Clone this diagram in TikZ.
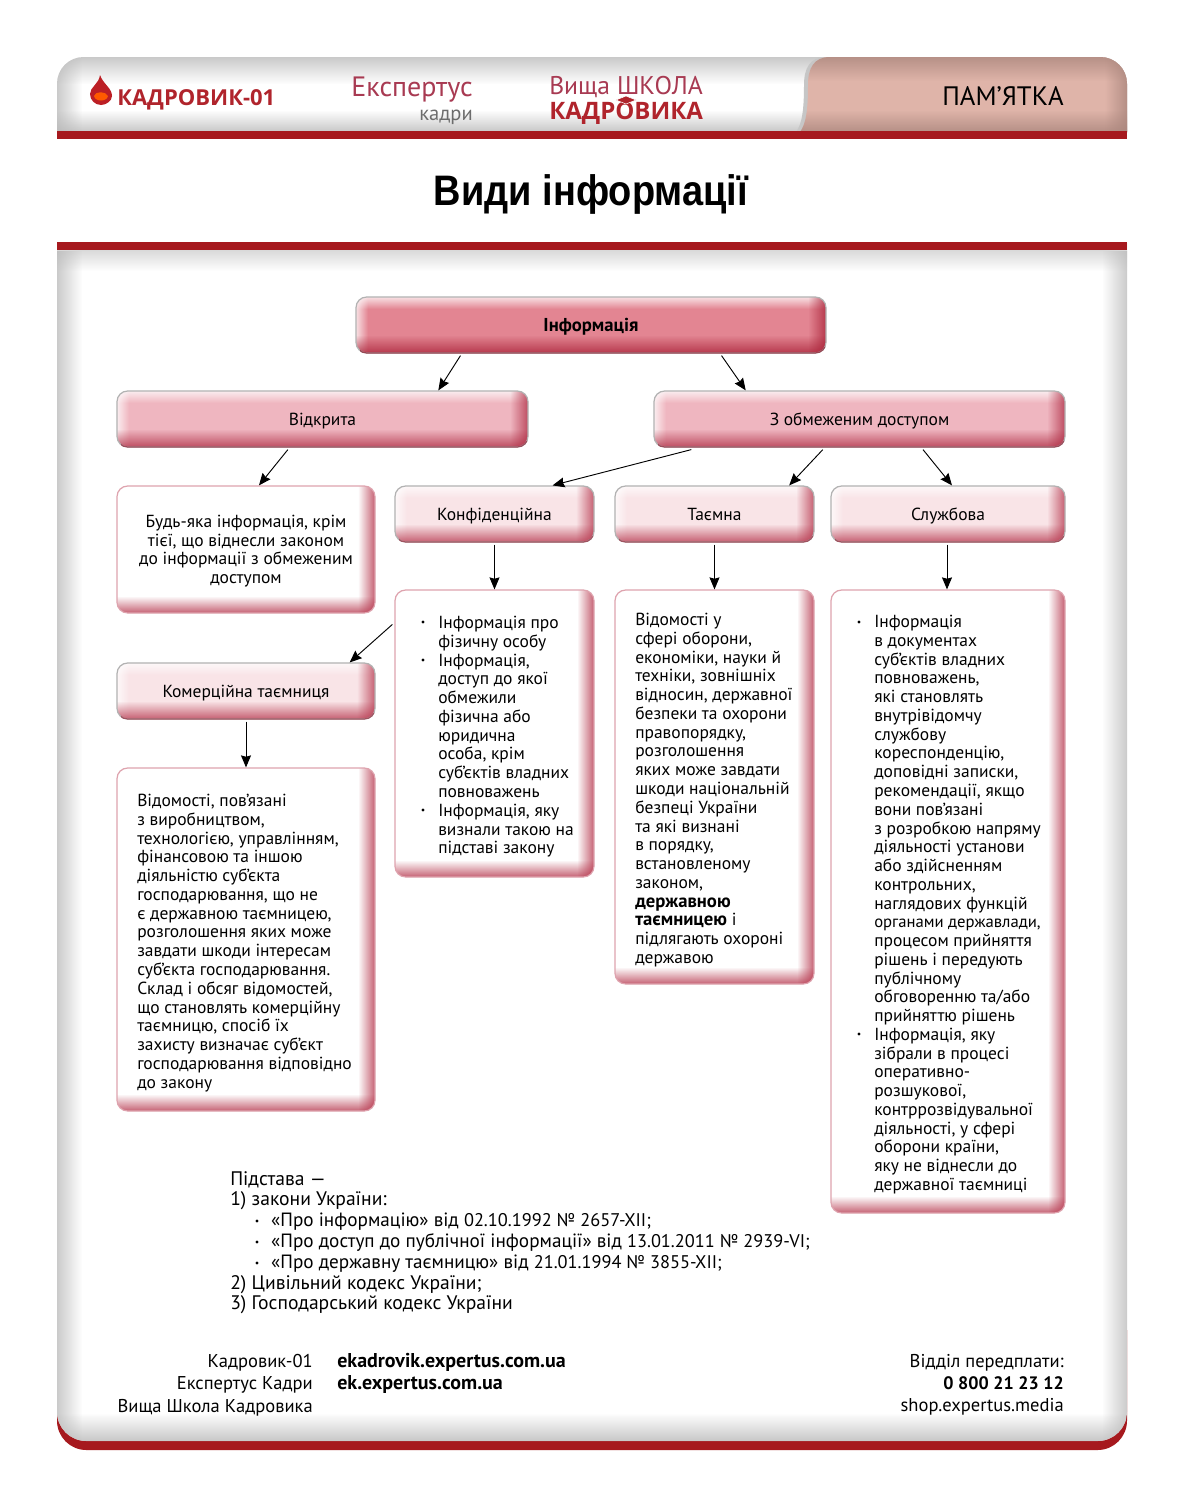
\documentclass[tikz,border=0pt]{standalone}
\usepackage{fontspec}
\setmainfont{PT Sans}
\newfontfamily\titlefont{Liberation Sans}
\newfontfamily\logofont{Open Sans}
\usetikzlibrary{calc,arrows.meta,fadings}
\definecolor{brickred}{HTML}{A6191E}
\definecolor{infofill}{HTML}{E38592}
\definecolor{infodark}{HTML}{A82036}
\definecolor{midfill}{HTML}{EFB6C0}
\definecolor{middark}{HTML}{AE2A42}
\definecolor{lightfill}{HTML}{F9E4E7}
\definecolor{lightdark}{HTML}{B5334A}
\definecolor{logored}{HTML}{B0242C}
\definecolor{logosoft}{HTML}{A83A52}
\definecolor{tabfill}{HTML}{DFB4A9}
\definecolor{tabdark}{HTML}{A9857C}
\definecolor{edgegray}{HTML}{B8B8B8}
\newcommand{\bigb}[1]{\textbf{\fontsize{14}{14}\selectfont #1}}
\newcommand{\numf}[1]{{\fontsize{13.75}{15.6}\selectfont #1}}
\tikzset{
  x=0.75pt,y=-0.75pt,
  conn/.style={-{Stealth[length=9pt,width=7.5pt,inset=1pt]},line width=0.7pt,black},
  boxtext/.style={font=\fontsize{13.1}{14.07}\selectfont,align=center,inner sep=0pt},
  labeltext/.style={font=\fontsize{13.1}{14}\selectfont,inner sep=0pt,text height=12pt,text depth=3pt},
  bodytext/.style={font=\fontsize{13.1}{14.07}\selectfont,align=left,inner sep=0pt,anchor=north west},
  foot/.style={font=\fontsize{13.9}{16.7}\selectfont,inner sep=0pt},
}
% name, x1,y1,x2,y2, fill, dark, text
\newcommand{\glossbox}[8]{%
  \begin{scope}
    \clip[rounded corners=8pt] (#2,#3) rectangle (#4,#5);
    \fill[#6] (#2,#3) rectangle (#4,#5);
    \fill[white,path fading=south] (#2-2,#3-4) rectangle (#4+2,#3+12);
    \fill[white,path fading=east] (#2-4,#3-2) rectangle (#2+12,#5+2);
    \fill[#7,path fading=north] (#2-2,#5-18) rectangle (#4+2,#5+6);
    \fill[#7,path fading=west] (#4-18,#3-2) rectangle (#4+6,#5+2);
  \end{scope}
  \node[draw=gray!60,line width=0.9pt,rounded corners=8pt,
        minimum width={(#4-#2)*0.75pt},minimum height={(#5-#3)*0.75pt},
        inner sep=0pt] (#1) at ({(#2+#4)/2},{(#3+#5)/2}) {};
  \begin{scope}
    \clip (#2+4,#5-6) rectangle (#4-1,#5+3);
    \draw[#7!60!gray,line width=0.9pt,rounded corners=8pt] (#2,#3) rectangle (#4,#5);
  \end{scope}
  \node[labeltext] at (#1) {#8};
}
% name, x1,y1,x2,y2
\newcommand{\whitebox}[5]{%
  \begin{scope}
    \clip[rounded corners=8pt] (#2,#3) rectangle (#4,#5);
    \fill[white] (#2,#3) rectangle (#4,#5);
    \fill[lightdark,path fading=north] (#2-2,#5-17) rectangle (#4+2,#5+5);
    \fill[lightdark,path fading=west] (#4-17,#3-2) rectangle (#4+5,#5+2);
  \end{scope}
  \node[draw=lightdark!45,line width=0.9pt,rounded corners=8pt,
        minimum width={(#4-#2)*0.75pt},minimum height={(#5-#3)*0.75pt},
        inner sep=0pt] (#1) at ({(#2+#4)/2},{(#3+#5)/2}) {};
}
\begin{document}
\begin{tikzpicture}
\useasboundingbox (0,0) rectangle (1182,1506);
\fill[white] (0,0) rectangle (1182,1506);
% header panel
\begin{scope}
  \clip[rounded corners=20pt] (57,57) rectangle (1127,190);
  \clip (50,50) rectangle (1134,132);
  \fill[white] (57,57) rectangle (1127,132);
  \fill[edgegray,path fading=south] (50,48) rectangle (1134,84);
  \fill[edgegray,path fading=north] (50,110) rectangle (1134,138);
  \fill[edgegray,path fading=east] (48,50) rectangle (82,140);
  % tab
  \fill[edgegray!80] (796,132) .. controls (802,124) and (804,110) .. (804,85)
     .. controls (804,68) and (810,57) .. (826,57) -- (1140,57) -- (1140,132) -- cycle;
  \fill[tabfill] (800,132) .. controls (806,124) and (808,110) .. (808,85)
     .. controls (808,68) and (814,57) .. (830,57) -- (1140,57) -- (1140,132) -- cycle;
  \begin{scope}
    \clip (800,132) .. controls (806,124) and (808,110) .. (808,85)
     .. controls (808,68) and (814,57) .. (830,57) -- (1140,57) -- (1140,132) -- cycle;
    \fill[tabdark,path fading=south] (790,49) rectangle (1140,81);
    \fill[tabdark,path fading=north] (790,110) rectangle (1140,138);
    \fill[tabdark,path fading=west] (1105,50) rectangle (1133,140);
  \end{scope}
\end{scope}
\fill[brickred] (57,131) rectangle (1127,139);
% flame logo
\fill[logored!85!red] (100,75) .. controls (103,84) and (112,88) .. (112,96) .. controls (112,101) and (106,105) .. (101,105)
  .. controls (95,105) and (90,100) .. (90,94) .. controls (90,87) and (99,84) .. (100,75) -- cycle;
\fill[orange!70!red] (94,96) .. controls (95,91) and (106,91) .. (108,96) .. controls (107,102) and (95,102) .. (94,96) -- cycle;
\node[inner sep=0pt,anchor=west,text=logored,font=\logofont\bfseries\fontsize{16.5}{18}\selectfont] (logoa) at (117,100) {КАДРОВИК-01};
\node[inner sep=0pt,anchor=east,text=logosoft,font=\fontsize{21}{22}\selectfont] (logob) at (473,90) {Експертус};
\node[inner sep=0pt,anchor=east,text=gray!85!black,font=\fontsize{15.4}{16}\selectfont] (logoc) at (473,117) {кадри};
\node[inner sep=0pt,anchor=west,text=logosoft,font=\fontsize{19.2}{20}\selectfont] (logod) at (549,87) {Вища ШКОЛА};
\node[inner sep=0pt,anchor=west,text=logored,font=\logofont\bfseries\fontsize{18}{20}\selectfont] (logoe) at (549,113) {КАДРОВИКА};
\fill[logored,draw=white,line width=0.4pt] (626,96) -- (636,100) -- (626,104) -- (616,100) -- cycle;
\node[inner sep=0pt,font=\fontsize{20}{22}\selectfont] (memo) at (1003,96) {ПАМ’ЯТКА};
\node[inner sep=0pt,xscale=0.89,font=\titlefont\bfseries\fontsize{32}{34}\selectfont] (maintitle) at (591,194) {Види інформації};
% main panel
\fill[brickred,rounded corners=22pt] (57,1300) -- (57,1450) -- (1127,1450) -- (1127,1300) -- cycle;
\fill[white] (50,242) rectangle (1134,1330);
\begin{scope}
  \clip[rounded corners=22pt] (57,200) -- (57,1441) -- (1127,1441) -- (1127,200) -- cycle;
  \fill[white] (57,250) rectangle (1127,1441);
  \fill[edgegray,path fading=south,opacity=.7] (50,243) rectangle (1134,271);
  \fill[edgegray,path fading=north] (50,1413) rectangle (1134,1449);
  \fill[edgegray,path fading=east] (48,250) rectangle (82,1450);
  \fill[edgegray,path fading=west] (1102,250) rectangle (1136,1450);
\end{scope}
\fill[brickred] (57,242) rectangle (1127,250);
% boxes
\glossbox{info}{356}{297}{826}{353}{infofill}{infodark}{\bigb{Інформація}}
\glossbox{open}{117}{391}{528}{447}{midfill}{middark}{Відкрита}
\glossbox{restr}{654}{391}{1065}{447}{midfill}{middark}{З обмеженим доступом}
\glossbox{conf}{395}{486}{594}{542}{lightfill}{lightdark}{Конфіденційна}
\glossbox{secret}{615}{486}{814}{542}{lightfill}{lightdark}{Таємна}
\glossbox{serv}{831}{486}{1065}{542}{lightfill}{lightdark}{Службова}
\glossbox{comm}{117}{663}{375}{719}{lightfill}{lightdark}{Комерційна таємниця}
\whitebox{opend}{117}{486}{375}{613}
\whitebox{confd}{395}{590}{594}{877}
\whitebox{secretd}{615}{590}{814}{984}
\whitebox{servd}{831}{590}{1065}{1213}
\whitebox{commd}{117}{768}{375}{1111}
\node[boxtext] (t0) at (246,551) {Будь-яка інформація, крім\\тієї, що віднесли законом\\до інформації з обмеженим\\доступом};
\node[bodytext] (t1) at (438,616) {Інформація про\\фізичну особу\\Інформація,\\доступ до якої\\обмежили\\фізична або\\юридична\\особа, крім\\суб’єктів владних\\повноважень\\Інформація, яку\\визнали такою на\\підставі закону};
\foreach \yy in {622,660,810} \fill (423,\yy) circle (1.6);
\node[bodytext] (t2) at (635,613) {Відомості у\\сфері оборони,\\економіки, науки й\\техніки, зовнішніх\\відносин, державної\\безпеки та охорони\\правопорядку,\\розголошення\\яких може завдати\\шкоди національній\\безпеці України\\та які визнані\\в порядку,\\встановленому\\законом,\\\bigb{державною}\\\bigb{таємницею} і\\підлягають охороні\\державою};
\node[bodytext] (t3) at (874,615) {Інформація\\в документах\\суб’єктів владних\\повноважень,\\які становлять\\внутрівідомчу\\службову\\кореспонденцію,\\доповідні записки,\\рекомендації, якщо\\вони пов’язані\\з розробкою напряму\\діяльності установи\\або здійсненням\\контрольних,\\наглядових функцій\\{\fontsize{12.5}{14.07}\selectfont органами державлади,}\\процесом прийняття\\рішень і передують\\публічному\\обговоренню та/або\\прийняттю рішень\\Інформація, яку\\зібрали в процесі\\оперативно-\\розшукової,\\контррозвідувальної\\діяльності, у сфері\\оборони країни,\\яку не віднесли до\\державної таємниці};
\foreach \yy in {622,1034} \fill (859,\yy) circle (1.6);
\node[bodytext] (t4) at (137,794) {Відомості, пов’язані\\з виробництвом,\\технологією, управлінням,\\фінансовою та іншою\\діяльністю суб’єкта\\господарювання, що не\\є державною таємницею,\\розголошення яких може\\завдати шкоди інтересам\\суб’єкта господарювання.\\Склад і обсяг відомостей,\\що становлять комерційну\\таємницю, спосіб їх\\захисту визначає суб’єкт\\господарювання відповідно\\до закону};
% legal basis
\node[inner sep=0pt,anchor=north west,align=left,font=\fontsize{14.4}{15.6}\selectfont] (basis) at (230,1171) {{\fontsize{14.7}{15.6}\selectfont Підстава —}\\{\fontsize{14.7}{15.6}\selectfont 1) закони України:}\\\hspace*{30.7pt}«Про інформацію» від \numf{02.10.1992 № 2657-XII;}\\\hspace*{30.7pt}«Про доступ до публічної інформації» від \numf{13.01.2011 № 2939-VI;}\\\hspace*{30.7pt}«Про державну таємницю» від \numf{21.01.1994 № 3855-XII;}\\{\fontsize{14.7}{15.6}\selectfont 2) Цивільний кодекс України;}\\{\fontsize{14.7}{15.6}\selectfont 3) Господарський кодекс України}};
\foreach \yy in {1221,1242,1263} \fill (257,\yy) circle (1.7);
% footer
\node[foot,anchor=north east,align=right] (f1) at (313,1354) {Кадровик-01\\Експертус Кадри\\Вища Школа Кадровика};
\node[foot,anchor=north west,align=left] (f2) at (337,1353) {\textbf{\fontsize{15}{16.7}\selectfont ekadrovik.expertus.com.ua}\\\textbf{\fontsize{15}{16.7}\selectfont ek.expertus.com.ua}};
\node[foot,anchor=north east,align=right] (f3) at (1064,1354) {Відділ передплати:\\\textbf{\fontsize{13.5}{16.7}\selectfont 0 800 21 23 12}\\shop.expertus.media};
% connectors
\draw[conn] ($(info.south west)!0.223!(info.south east)+(0,2)$) -- ($(open.north west)!0.781!(open.north east)$);
\draw[conn] ($(info.south west)!0.777!(info.south east)+(0,2)$) -- ($(restr.north west)!0.224!(restr.north east)$);
\draw[conn] ($(open.south west)!0.416!(open.south east)+(0,2)$) -- ($(opend.north west)!0.55!(opend.north east)$);
\draw[conn] ($(restr.south west)!0.092!(restr.south east)+(0,2)$) -- ($(conf.north west)!0.79!(conf.north east)$);
\draw[conn] ($(restr.south west)!0.411!(restr.south east)+(0,2)$) -- ($(secret.north west)!0.873!(secret.north east)$);
\draw[conn] ($(restr.south west)!0.654!(restr.south east)+(0,2)$) -- ($(serv.north west)!0.517!(serv.north east)$);
\draw[conn] ($(conf.south)+(0,2)$) -- (confd.north);
\draw[conn] ($(secret.south)+(0,2)$) -- (secretd.north);
\draw[conn] ($(serv.south)+(-1,2)$) -- ($(servd.north)+(-1,0)$);
\draw[conn] ($(comm.south)+(0,2)$) -- (commd.north);
\draw[conn] ($(confd.north west)+(-2,35)$) -- ($(comm.north west)!0.9!(comm.north east)$);
\end{tikzpicture}
\end{document}
